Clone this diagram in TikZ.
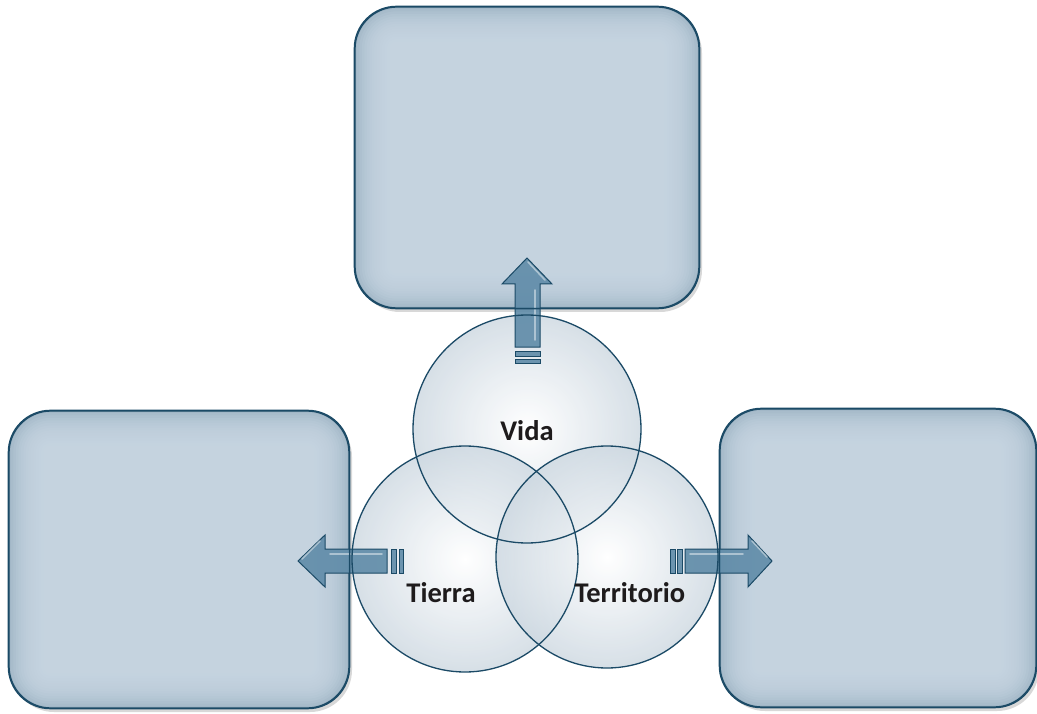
\documentclass[tikz,border=0pt]{standalone}
\usepackage{fontspec}
\setmainfont{Carlito}
\usetikzlibrary{shadows}
\definecolor{edge}{HTML}{1B4A66}
\definecolor{boxin}{HTML}{CAD8E4}
\definecolor{boxout}{HTML}{A2B7C7}
\definecolor{arrowfill}{HTML}{5F8BA8}
\definecolor{circout}{HTML}{CDD8E1}
\definecolor{txt}{HTML}{1E1B1C}
\newcommand\softpanel[1]{%
  \foreach \i in {1,...,16}{%
    \pgfmathsetmacro\rr{max(42-2.5*\i,4)}%
    \fill[boxin, opacity=0.17, rounded corners=\rr pt]
      ([shift={(2.5*\i pt,-2.5*\i pt)}]#1.north west) rectangle
      ([shift={(-2.5*\i pt,2.5*\i pt)}]#1.south east);
  }}
\begin{document}
\begin{tikzpicture}[x=1pt,y=-1pt,
  panel/.style={draw=edge, line width=1.3pt, rounded corners=42pt,
    fill=boxout,
    drop shadow={opacity=0.3, shadow xshift=3pt, shadow yshift=-4pt}},
  ring/.style={circle, inner color=white, outer color=circout, fill opacity=0.8},
  rim/.style={draw=edge, line width=1.3pt},
  label/.style={text=txt, font=\bfseries\fontsize{28.5}{32}\selectfont},
  arrowbody/.style={draw=edge, line width=1pt, fill=arrowfill, fill opacity=0.9,
    line join=miter},
  gloss/.style={draw=white, line width=1.6pt, opacity=0.45, line cap=round}]
\useasboundingbox (0,0) rectangle (1037,714);
\fill[white] (0,0) rectangle (1037,714);

% panels
\node[panel, minimum width=344pt, minimum height=301pt] (top) at (527,157.5) {};
\node[panel, minimum width=340pt, minimum height=297pt] (left) at (179,559.5) {};
\node[panel, minimum width=316pt, minimum height=298pt] (right) at (878,558) {};
\softpanel{top}
\softpanel{left}
\softpanel{right}

% circles (fill)
\node[ring, minimum size=228pt] (vida) at (527,429) {};
\node[ring, minimum size=226pt] (tierra) at (465,559) {};
\node[ring, minimum size=222pt] (terr) at (607,557) {};

% up arrow
\draw[arrowbody] (527,258) -- (552,284) -- (540,284) -- (540,347) -- (515,347)
  -- (515,284) -- (502,284) -- cycle;
\draw[arrowbody] (515,351) rectangle (540,356);
\draw[arrowbody] (515,359) rectangle (540,363);
\draw[gloss] (535,290) -- (535,340);
\draw[gloss] (528,262) -- (545,280);

% left arrow
\draw[arrowbody] (298,561) -- (325,535) -- (325,549) -- (387,549) -- (387,573)
  -- (325,573) -- (325,587) -- cycle;
\draw[arrowbody] (391,549) rectangle (396,573);
\draw[arrowbody] (399,549) rectangle (403,573);
\draw[gloss] (330,554) -- (382,554);
\draw[gloss] (302,559) -- (320,541);

% right arrow
\draw[arrowbody] (772,561) -- (748,535) -- (748,549) -- (685,549) -- (685,573)
  -- (748,573) -- (748,587) -- cycle;
\draw[arrowbody] (670,549) rectangle (675,573);
\draw[arrowbody] (677,549) rectangle (682,573);
\draw[gloss] (690,554) -- (743,554);
\draw[gloss] (752,541) -- (767,557);

% outlines on top
\draw[rim, rounded corners=42pt] (top.north west) rectangle (top.south east);
\draw[rim, rounded corners=42pt] (left.north west) rectangle (left.south east);
\draw[rim, rounded corners=42pt] (right.north west) rectangle (right.south east);
\draw[rim] (vida.center) circle[radius=114];
\draw[rim] (tierra.center) circle[radius=113];
\draw[rim] (terr.center) circle[radius=111];

\node[label] (tvida) at (527,431) {Vida};
\node[label] (ttierra) at (441,593) {Tierra};
\node[label] (tterr) at (630,593) {Territorio};
\end{tikzpicture}
\end{document}
